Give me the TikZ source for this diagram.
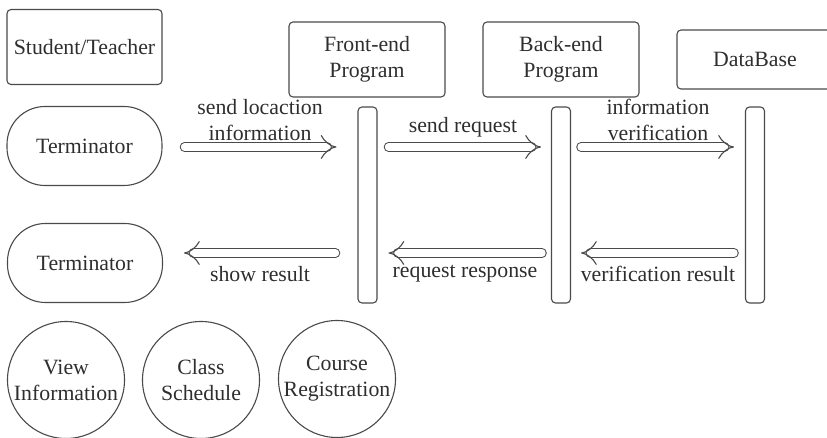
\documentclass[tikz,border=0pt]{standalone}
\usepackage{fontspec}
\setmainfont{Liberation Serif}
\usetikzlibrary{arrows.meta, positioning}

\definecolor{inkgray}{HTML}{2e2e2e}
\definecolor{linegray}{HTML}{4a4a4a}

\begin{document}
\begin{tikzpicture}[x=1pt, y=-1pt, font=\fontsize{21.8}{26}\selectfont, text=inkgray]
        \tikzset{box/.style = {draw=linegray, line width=1.1pt, rounded corners=4pt, align=center, inner sep=0pt}}
        \tikzset{terminal/.style = {box, rounded corners=38pt, minimum width=155pt, minimum height=79pt}}
        \tikzset{lifeline/.style = {box, minimum width=19pt, minimum height=196pt}}
        \tikzset{usecase/.style = {shape=circle, draw=linegray, line width=1.1pt, align=center, inner sep=0pt, minimum size=117pt}}
        \tikzset{msg/.style = {draw=linegray, line width=1.1pt, double=white, double distance=7.5pt, line cap=round, -{Implies[length=8pt, width=17pt]}}}
        \tikzset{lbl/.style = {align=center, inner sep=0pt}}
        \useasboundingbox (0,0) rectangle (827,438);

        % participants
        \node[box, minimum width=155pt, minimum height=75pt] (actor) at (84.5, 47) {Student/Teacher};
        \node[box, minimum width=156pt, minimum height=75pt] (front) at (367, 59.5) {Front-end\\Program};
        \node[box, minimum width=156pt, minimum height=75pt] (back) at (561, 59.5) {Back-end\\Program};
        \node[box, minimum width=156pt, minimum height=59pt] (db) at (755, 59.5) {DataBase};

        \node[terminal] (term1) at (84.5, 146) {Terminator};
        \node[terminal] (term2) at (85, 263) {Terminator};

        % lifelines
        \node[lifeline] (flife) at (367.5, 205) {};
        \node[lifeline] (blife) at (561, 205) {};
        \node[lifeline] (dlife) at (755, 205) {};

        \coordinate (req) at (0, 147);
        \coordinate (res) at (0, 253);

        % requests
        \draw[msg, shorten <=22pt, shorten >=21pt] (term1.east |- req) -- (flife.west |- req);
        \draw[msg, shorten <=11pt, shorten >=10pt] (flife.east |- req) -- (blife.west |- req);
        \draw[msg, shorten <=10pt, shorten >=11pt] (blife.east |- req) -- (dlife.west |- req);

        % responses
        \draw[msg, shorten <=22pt, shorten >=21pt] (flife.west |- res) -- (term2.east |- res);
        \draw[msg, shorten <=9pt, shorten >=11pt] (blife.west |- res) -- (flife.east |- res);
        \draw[msg, shorten <=11pt, shorten >=10pt] (dlife.west |- res) -- (blife.east |- res);

        \node[lbl] (l1) at (260, 120) {send locaction\\information};
        \node[lbl] (l2) at (463, 127) {send request};
        \node[lbl] (l3) at (658, 120) {information\\verification};
        \node[lbl] (l4) at (260, 274) {show result};
        \node[lbl] (l5) at (465, 274) {request response};
        \node[lbl] (l6) at (658, 274) {verification result};

        % modules
        \node[usecase] (view) at (66, 380) {View\\Information};
        \node[usecase] (sched) at (201, 380) {Class\\Schedule};
        \node[usecase] (reg) at (337, 379) {Course\\Registration};
      \end{tikzpicture}
\end{document}
